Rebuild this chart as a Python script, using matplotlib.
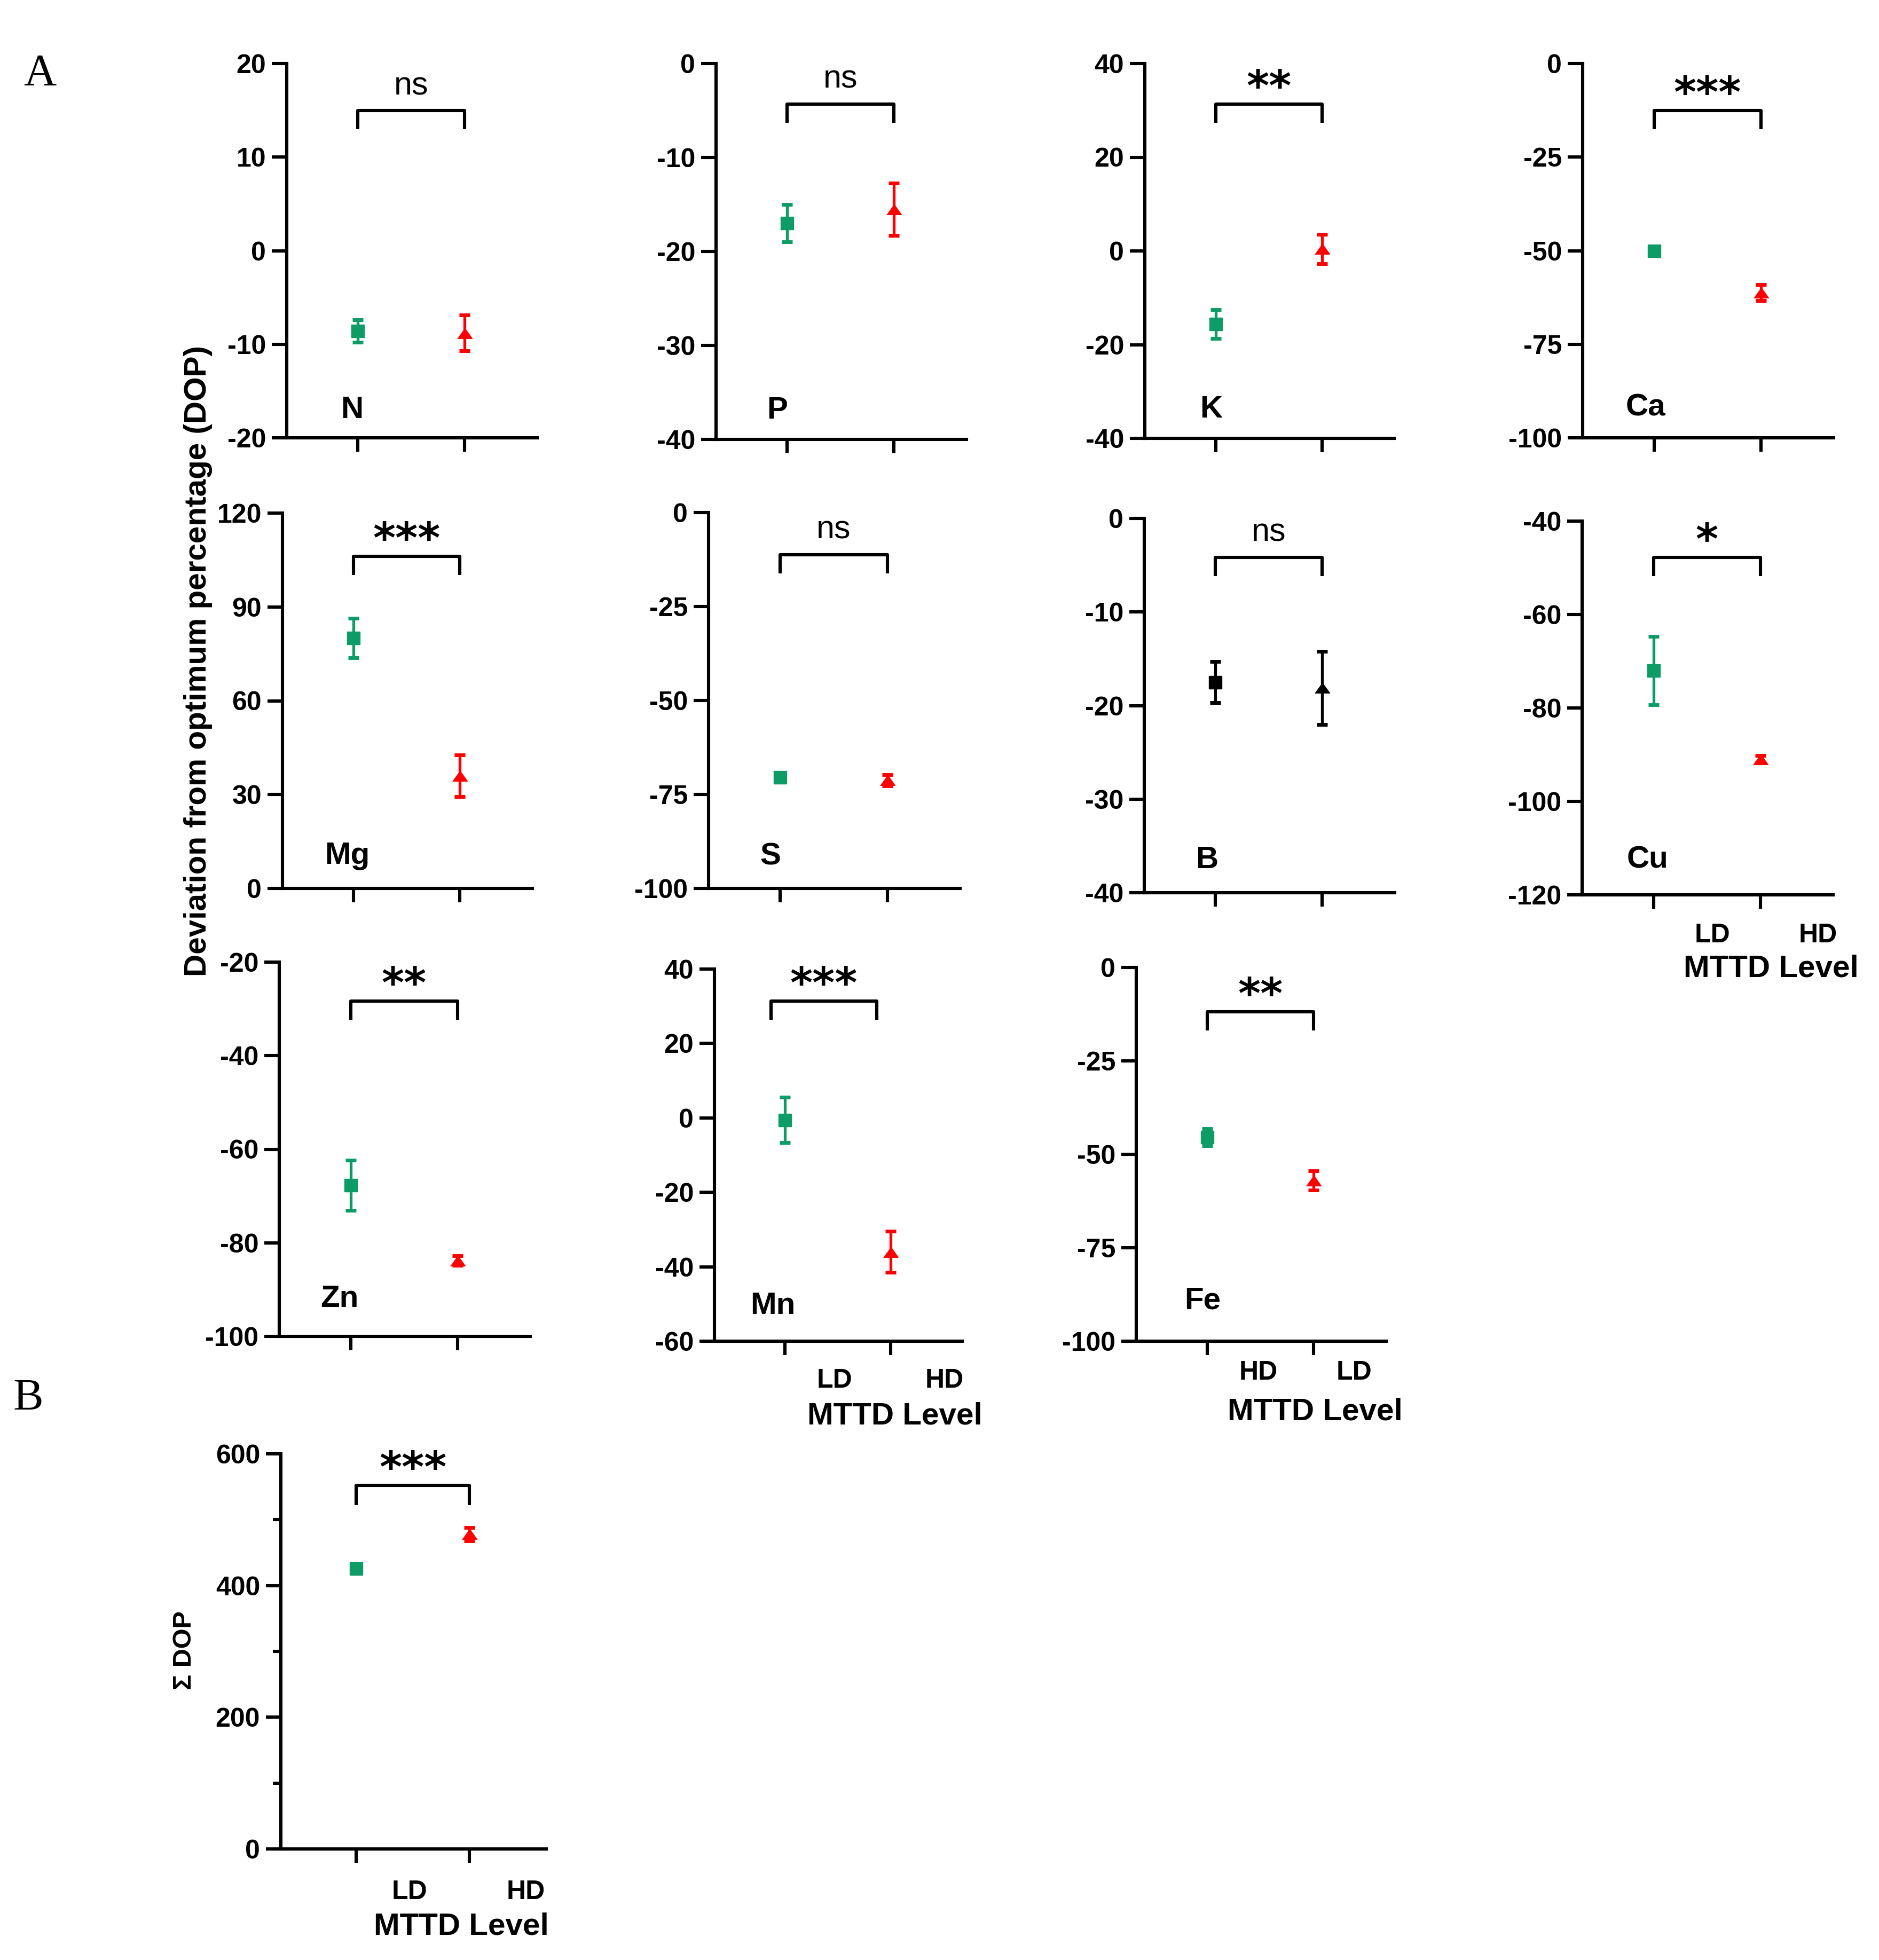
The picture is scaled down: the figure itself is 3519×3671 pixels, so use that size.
import matplotlib
matplotlib.use("Agg")
import matplotlib.pyplot as plt
import numpy as np

plt.rcParams['font.family'] = ['Liberation Sans', 'DejaVu Sans']
plt.rcParams['font.weight'] = 'bold'
plt.rcParams['axes.unicode_minus'] = False

# ---------------- data ----------------
elements = ['N', 'P', 'K', 'Ca', 'Mg', 'S', 'B', 'Cu', 'Zn', 'Mn', 'Fe']
ld_mean = [-8.6, -17.0, -15.6, -50.1, 80.0, -70.5, -17.5, -72.0, -67.7, -0.6, -45.4]
ld_sem = [1.2, 2.0, 3.1, 1.0, 6.3, 0.6, 2.2, 7.3, 5.4, 6.1, 2.3]
hd_mean = [-8.8, -15.5, 0.4, -61.2, 36.0, -71.2, -18.1, -91.0, -83.8, -36.0, -57.0]
hd_sem = [1.9, 2.8, 3.1, 2.2, 6.6, 1.5, 3.9, 0.8, 1.0, 5.5, 2.6]
significance = ['ns', 'ns', '**', '***', '***', 'ns', 'ns', '*', '**', '***', '**']
y_min = [-20, -40, -40, -100, 0, -100, -40, -120, -100, -60, -100]
y_max = [20, 0, 40, 0, 120, 0, 0, -40, -20, 40, 0]
y_step = [10, 10, 20, 25, 30, 25, 10, 20, 20, 20, 25]

sum_mean = [426, 478]
sum_sem = [6, 10]
sum_sig = '***'
sum_ticks = [0, 200, 400, 600]

group_labels = ['LD', 'HD']
fe_group_labels = ['HD', 'LD']

# ---------------- layout (pixels: left, top, right, bottom) ----------------
W, H = 3519, 3671
boxes = {
    'N': (537, 119, 1006, 820), 'P': (1341, 119, 1810, 823),
    'K': (2144, 119, 2611, 821), 'Ca': (2964, 119, 3434, 820),
    'Mg': (529, 961, 997, 1664), 'S': (1327, 960, 1798, 1664),
    'B': (2143, 971, 2612, 1672), 'Cu': (2963, 976, 3433, 1676),
    'Zn': (523, 1802, 993, 2503), 'Mn': (1338, 1815, 1802, 2512),
    'Fe': (2128, 1812, 2596, 2512),
}
sum_box = (526, 2723, 1023, 3463)
bracket_y = {'N': 0.874, 'P': 0.892, 'K': 0.892, 'Ca': 0.874, 'Mg': 0.885, 'S': 0.888,
             'B': 0.896, 'Cu': 0.903, 'Zn': 0.896, 'Mn': 0.914, 'Fe': 0.881}
bracket_shift = {'Mn': -0.13}
label_pos = {'N': (0.26, 0.074), 'P': (0.245, 0.077), 'K': (0.265, 0.077), 'Ca': (0.25, 0.08),
             'Mg': (0.26, 0.087), 'S': (0.245, 0.084), 'B': (0.25, 0.087), 'Cu': (0.26, 0.094),
             'Zn': (0.24, 0.10), 'Mn': (0.235, 0.094), 'Fe': (0.265, 0.108)}

GREEN = '#0E9C66'
RED = '#FF0000'
LW = 4.4

fig = plt.figure(figsize=(W / 100, H / 100), dpi=100)


def make_ax(box):
    l, t, r, b = box
    return fig.add_axes([l / W, 1 - b / H, (r - l) / W, (b - t) / H])


tri = [(-1, -0.7), (1, -0.7), (0, 0.7)]


def style(ax):
    for s in ['top', 'right']:
        ax.spines[s].set_visible(False)
    for s in ['left', 'bottom']:
        ax.spines[s].set_linewidth(LW)
    ax.set_xlim(0.333, 2.68)
    ax.set_xticks([1, 2])
    ax.tick_params(axis='x', length=19, width=LW, labelbottom=False)
    ax.tick_params(axis='y', length=20, width=LW, pad=8, labelsize=36)


def draw_points(ax, means, sems, colors):
    x = [1, 2]
    ax.errorbar([x[0]], [means[0]], yerr=[sems[0]], fmt='none', ecolor=colors[0],
                elinewidth=3.8, capsize=7.5, capthick=5, zorder=3, clip_on=False)
    ax.errorbar([x[1]], [means[1]], yerr=[sems[1]], fmt='none', ecolor=colors[1],
                elinewidth=3.8, capsize=7.5, capthick=5, zorder=3, clip_on=False)
    ax.plot([x[0]], [means[0]], marker='s', ms=17, color=colors[0], mec=colors[0],
            ls='none', zorder=4, clip_on=False)
    ax.plot([x[1]], [means[1]], marker=tri, ms=20, color=colors[1], mec=colors[1],
            ls='none', zorder=4, clip_on=False)


def bracket(ax, yb, sig, dx=0.0):
    tr = ax.get_xaxis_transform()
    x0, x1 = 1 + dx, 2 + dx
    ax.plot([x0, x0, x1, x1], [yb - 0.05, yb, yb, yb - 0.05], color='black', lw=4.4,
            transform=tr, solid_joinstyle='round', solid_capstyle='butt', clip_on=False)
    if sig == 'ns':
        ax.text(1.5 + dx, yb + 0.043, 'ns', transform=tr, ha='center', va='baseline',
                fontsize=44, fontweight='normal')
    else:
        ax.text(1.5 + dx, yb + 0.01, sig, transform=tr, ha='center', va='baseline',
                fontsize=58, fontweight='bold', family='DejaVu Sans')


def xlabels(ax, labels, xs, lab_off_px, title_x, title_off_px):
    for lab, xx in zip(labels, xs):
        ax.annotate(lab, xy=(xx, 0), xycoords=('data', 'axes fraction'),
                    xytext=(0, -lab_off_px * 0.72), textcoords='offset points',
                    ha='center', va='center', fontsize=36, fontweight='bold')
    ax.annotate('MTTD Level', xy=(title_x, 0), xycoords=('data', 'axes fraction'),
                xytext=(0, -title_off_px * 0.72), textcoords='offset points',
                ha='center', va='center', fontsize=42, fontweight='bold')


for i, el in enumerate(elements):
    ax = make_ax(boxes[el])
    style(ax)
    ax.set_ylim(y_min[i], y_max[i])
    ax.set_yticks(np.arange(y_min[i], y_max[i] + 0.1, y_step[i]))
    cols = ['black', 'black'] if el == 'B' else [GREEN, RED]
    draw_points(ax, [ld_mean[i], hd_mean[i]], [ld_sem[i], hd_sem[i]], cols)
    bracket(ax, bracket_y[el], significance[i], bracket_shift.get(el, 0.0))
    px, py = label_pos[el]
    ax.text(px, py, el, transform=ax.transAxes, ha='center', va='center',
            fontsize=42, fontweight='bold')
    if el == 'Cu':
        xlabels(ax, group_labels, [1.55, 2.54], 76, 2.10, 139)
    elif el == 'Mn':
        xlabels(ax, group_labels, [1.47, 2.51], 74, 2.04, 141)
    elif el == 'Fe':
        xlabels(ax, fe_group_labels, [1.48, 2.38], 59, 2.01, 132)

# Panel B: sum of DOP
ax = make_ax(sum_box)
style(ax)
ax.set_ylim(0, 600)
ax.set_yticks(sum_ticks)
ax.set_yticks([100, 300, 500], minor=True)
ax.tick_params(axis='y', which='minor', length=11, width=LW)
draw_points(ax, sum_mean, sum_sem, [GREEN, RED])
bracket(ax, 0.920, sum_sig)
xlabels(ax, group_labels, [1.47, 2.50], 81, 1.93, 145)

# axis titles and panel letters
fig.text(371 / W, 1 - 1238 / H, 'Deviation from optimum percentage (DOP)', rotation=90,
         ha='center', va='center', fontsize=42, fontweight='bold')
fig.text(345 / W, 1 - 3091 / H, 'Σ DOP', rotation=90, ha='center', va='center',
         fontsize=35, fontweight='bold')
fig.text(75 / W, 1 - 139 / H, 'A', ha='center', va='center', fontsize=61,
         fontweight='normal', family='Liberation Serif')
fig.text(53 / W, 1 - 2621 / H, 'B', ha='center', va='center', fontsize=61,
         fontweight='normal', family='Liberation Serif')

fig.savefig('out.png', dpi=100, facecolor='white')
